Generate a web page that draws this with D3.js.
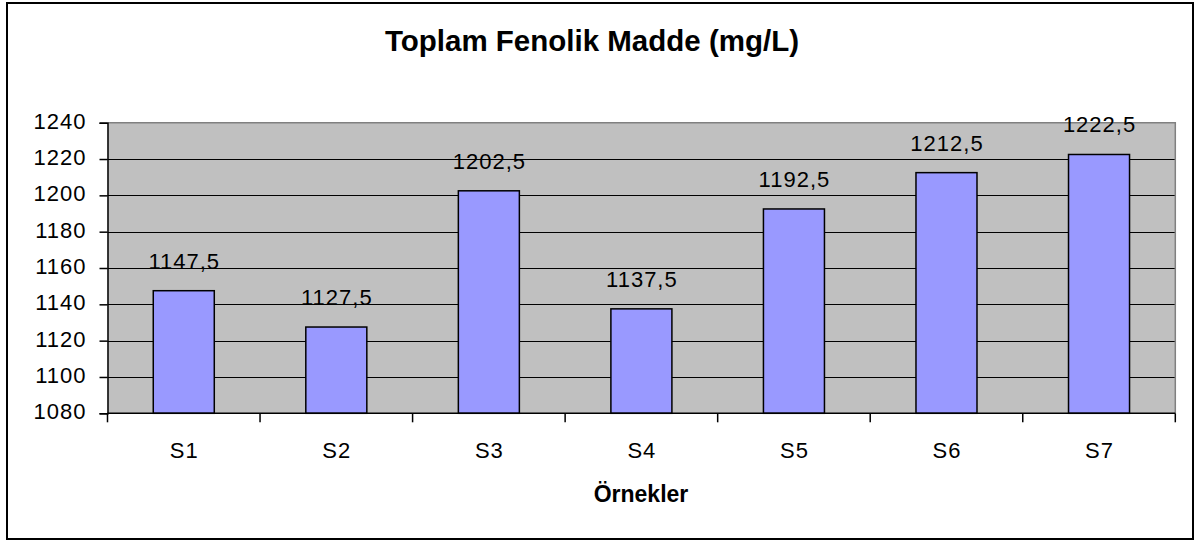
<!DOCTYPE html>
<html>
<head>
<meta charset="utf-8">
<script src="https://cdn.jsdelivr.net/npm/d3@7"></script>
<style>
  html, body { margin: 0; padding: 0; background: #fff; }
  svg text { font-family: "Liberation Sans", Arial, sans-serif; }
</style>
</head>
<body>
<svg id="chart" width="1196" height="541"></svg>
<script>
const categories = ["S1", "S2", "S3", "S4", "S5", "S6", "S7"];
const values = [1147.5, 1127.5, 1202.5, 1137.5, 1192.5, 1212.5, 1222.5];
const yTicks = [1080, 1100, 1120, 1140, 1160, 1180, 1200, 1220, 1240];
const valueLabels = ["1147,5", "1127,5", "1202,5", "1137,5", "1192,5", "1212,5", "1222,5"];
const title = "Toplam Fenolik Madde (mg/L)";
const xTitle = "Örnekler";

const svg = d3.select("#chart");
const plot = { left: 107.5, right: 1175.3, top: 122.7, bottom: 413.3 };
const FS = 22, LS = 1;

// outer border
svg.append("rect").attr("x", 7).attr("y", 3).attr("width", 1186).attr("height", 536)
  .attr("fill", "#fff").attr("stroke", "#000").attr("stroke-width", 2);

const x = d3.scaleBand().domain(categories).range([plot.left, plot.right])
  .paddingInner(0.6).paddingOuter(0.3);
const y = d3.scaleLinear().domain([1080, 1240]).range([plot.bottom, plot.top]);

// plot background
svg.append("rect").attr("x", plot.left).attr("y", plot.top)
  .attr("width", plot.right - plot.left).attr("height", plot.bottom - plot.top)
  .attr("fill", "#C0C0C0");

// gridlines
svg.append("g").selectAll("line").data(yTicks.slice(1, -1)).join("line")
  .attr("x1", plot.left).attr("x2", plot.right)
  .attr("y1", d => Math.round(y(d)) + 0.5).attr("y2", d => Math.round(y(d)) + 0.5)
  .attr("stroke", "#000").attr("stroke-width", 1);

// top and right gray border
svg.append("path")
  .attr("d", `M${plot.left},${plot.top}H${plot.right}V${plot.bottom}`)
  .attr("fill", "none").attr("stroke", "#808080").attr("stroke-width", 1.5);

// bars
svg.append("g").selectAll("rect").data(values).join("rect")
  .attr("x", (d, i) => x(categories[i]))
  .attr("width", x.bandwidth())
  .attr("y", d => y(d))
  .attr("height", d => y(1080) - y(d))
  .attr("fill", "#9999FF").attr("stroke", "#000").attr("stroke-width", 1.5);

// value labels
svg.append("g").selectAll("text").data(values).join("text")
  .attr("x", (d, i) => x(categories[i]) + x.bandwidth() / 2 + 0.5)
  .attr("y", d => y(d) - 22)
  .attr("text-anchor", "middle")
  .attr("font-size", FS).attr("letter-spacing", LS)
  .attr("fill", "#000")
  .text((d, i) => valueLabels[i]);

// y axis
const yAxis = d3.axisLeft(y).tickValues(yTicks).tickSize(8).tickPadding(13)
  .tickFormat(d3.format("d"));
const gy = svg.append("g").attr("transform", `translate(${plot.left},0)`).call(yAxis);
gy.select(".domain").attr("stroke", "#000").attr("stroke-width", 1.5);
gy.selectAll(".tick line").attr("stroke", "#000").attr("stroke-width", 1.5);
gy.selectAll(".tick text").attr("font-size", FS).attr("letter-spacing", LS)
  .attr("fill", "#000").attr("dy", "0.25em").attr("font-family", "Liberation Sans, Arial, sans-serif");

// x axis: ticks at category boundaries
const gx = svg.append("g").attr("transform", `translate(0,${plot.bottom})`);
gx.append("line").attr("x1", plot.left).attr("x2", plot.right)
  .attr("y1", 0).attr("y2", 0).attr("stroke", "#000").attr("stroke-width", 1.5);
const boundaries = d3.range(categories.length + 1).map(i => plot.left + i * (plot.right - plot.left) / categories.length);
gx.selectAll("line.tk").data(boundaries).join("line").attr("class", "tk")
  .attr("x1", d => d).attr("x2", d => d).attr("y1", 0).attr("y2", 9)
  .attr("stroke", "#000").attr("stroke-width", 1.5);
gx.selectAll("text").data(categories).join("text")
  .attr("x", d => x(d) + x.bandwidth() / 2 + 0.5)
  .attr("y", 45)
  .attr("text-anchor", "middle")
  .attr("font-size", FS).attr("letter-spacing", LS).attr("fill", "#000")
  .text(d => d);

// titles
svg.append("text").attr("x", 592).attr("y", 51).attr("text-anchor", "middle")
  .attr("font-size", 29.5).attr("font-weight", "bold").attr("fill", "#000").text(title);
svg.append("text").attr("x", 641).attr("y", 502).attr("text-anchor", "middle")
  .attr("font-size", 23).attr("font-weight", "bold").attr("fill", "#000").text(xTitle);
</script>
</body>
</html>
